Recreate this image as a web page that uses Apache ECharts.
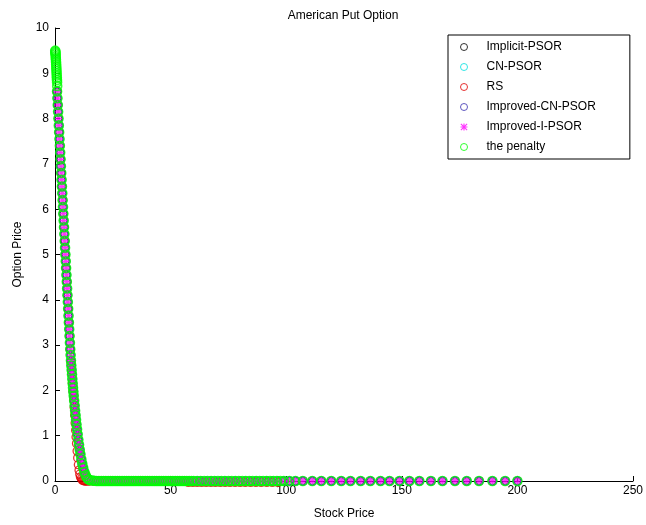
<!DOCTYPE html>
<html>
<head>
<meta charset="utf-8">
<script src="https://cdn.jsdelivr.net/npm/echarts@6/dist/echarts.min.js"></script>
<style>
  html, body { margin: 0; padding: 0; background: #fff; }
  #chart { width: 646px; height: 525px; }
</style>
</head>
<body>
<div id="chart"></div>
<script>
// Axis ticks
const priceTicks = [0, 1, 2, 3, 4, 5, 6, 7, 8, 9, 10];
const stockTicks = [0, 50, 100, 150, 200, 250];

// PSOR-type solvers: [stock price, option price]
const psorCurve = [
  [0.9, 8.60], [1.05, 8.45], [1.2, 8.30], [1.35, 8.15], [1.5, 8.00], [1.65, 7.85], [1.8, 7.70],
  [1.95, 7.55], [2.1, 7.40], [2.25, 7.25], [2.4, 7.10], [2.55, 6.95], [2.7, 6.80], [2.85, 6.65],
  [3.0, 6.50], [3.15, 6.35], [3.3, 6.20], [3.45, 6.05], [3.6, 5.90], [3.75, 5.75], [3.9, 5.60],
  [4.05, 5.45], [4.2, 5.30], [4.35, 5.15], [4.5, 5.00], [4.65, 4.85], [4.8, 4.70], [4.95, 4.55],
  [5.1, 4.40], [5.25, 4.25], [5.4, 4.10], [5.55, 3.95], [5.7, 3.80], [5.85, 3.65], [6.0, 3.50],
  [6.15, 3.35], [6.3, 3.20], [6.45, 3.05], [6.6, 2.91], [6.75, 2.78], [6.9, 2.66], [7.05, 2.55],
  [7.2, 2.45], [7.35, 2.35], [7.5, 2.25], [7.65, 2.15], [7.8, 2.06], [7.95, 1.97], [8.1, 1.88],
  [8.3, 1.77], [8.5, 1.66], [8.7, 1.55], [8.9, 1.45], [9.1, 1.35], [9.3, 1.25], [9.55, 1.14],
  [9.8, 1.03], [10.1, 0.91], [10.4, 0.80], [10.7, 0.69], [11.0, 0.59], [11.4, 0.48], [11.8, 0.38],
  [12.2, 0.29], [12.7, 0.20], [13.2, 0.13], [13.7, 0.08], [14.3, 0.04], [15.0, 0.02],
  [16.5, 0.01], [18.0, 0.005], [19.5, 0], [21.0, 0], [22.5, 0], [24.0, 0], [25.5, 0], [27.0, 0],
  [28.6, 0], [30.2, 0], [31.8, 0], [33.4, 0], [35.0, 0], [36.6, 0], [38.3, 0], [40.0, 0],
  [41.7, 0], [43.4, 0], [45.1, 0], [46.8, 0], [48.6, 0], [50.4, 0], [52.2, 0], [54.0, 0],
  [55.8, 0], [57.7, 0], [59.6, 0], [61.5, 0], [63.4, 0], [65.4, 0], [67.4, 0], [69.4, 0],
  [71.5, 0], [73.6, 0], [75.7, 0], [77.9, 0], [80.1, 0], [82.3, 0], [84.6, 0], [86.9, 0],
  [89.2, 0], [91.6, 0], [94.0, 0], [96.4, 0], [98.9, 0], [101.4, 0], [104.0, 0], [107.2, 0],
  [111.3, 0], [115.2, 0], [119.5, 0], [123.8, 0], [127.8, 0], [132.2, 0], [136.4, 0], [140.8, 0],
  [144.7, 0], [149.0, 0], [153.3, 0], [157.6, 0], [162.6, 0], [167.6, 0], [173.0, 0], [178.1, 0],
  [183.4, 0], [189.2, 0], [194.7, 0], [200.0, 0]
];

// RS solver: [stock price, option price]
const rsCurve = [
  [0.9, 8.60], [1.2, 8.30], [1.5, 8.00], [1.8, 7.70], [2.1, 7.40], [2.4, 7.10], [2.7, 6.80],
  [3.0, 6.50], [3.3, 6.20], [3.6, 5.90], [3.9, 5.60], [4.2, 5.30], [4.5, 5.00], [4.8, 4.70],
  [5.1, 4.40], [5.4, 4.10], [5.7, 3.80], [6.0, 3.50], [6.3, 3.20], [6.6, 2.90], [6.9, 2.62],
  [7.2, 2.38], [7.5, 2.17], [7.8, 1.98], [8.1, 1.80], [8.3, 1.62], [8.5, 1.45], [8.7, 1.28],
  [8.9, 1.12], [9.1, 0.97], [9.3, 0.83], [9.55, 0.66], [9.8, 0.51], [10.1, 0.36], [10.4, 0.24],
  [10.7, 0.15], [11.0, 0.09], [11.4, 0.05], [11.8, 0.02], [12.2, 0.01], [12.7, 0], [13.2, 0],
  [13.7, 0], [14.3, 0], [15.0, 0], [16.5, 0], [18.0, 0], [19.5, 0], [21.0, 0], [22.5, 0],
  [24.0, 0], [25.5, 0], [27.0, 0], [28.6, 0], [30.2, 0], [31.8, 0], [33.4, 0], [35.0, 0],
  [36.6, 0], [38.3, 0], [40.0, 0], [41.7, 0], [43.4, 0], [45.1, 0], [46.8, 0], [48.6, 0],
  [50.4, 0], [52.2, 0], [54.0, 0], [55.8, 0], [57.7, -0.03], [59.6, -0.03], [61.5, -0.03],
  [63.4, -0.03], [65.4, -0.03], [67.4, -0.03], [69.4, -0.03], [71.5, -0.03], [73.6, -0.03],
  [75.7, -0.03], [77.9, -0.03], [80.1, -0.03], [82.3, -0.03], [84.6, -0.03], [86.9, -0.03],
  [89.2, -0.03], [91.6, -0.03], [94.0, -0.03], [96.4, -0.03]
];

// Penalty method: [stock price, option price]
const penaltyCurve = [
  [0.1, 9.50], [0.15, 9.48], [0.2, 9.45], [0.25, 9.42], [0.3, 9.38], [0.35, 9.34], [0.4, 9.30],
  [0.45, 9.25], [0.5, 9.20], [0.55, 9.15], [0.6, 9.10], [0.65, 9.05], [0.7, 9.00], [0.75, 8.95],
  [0.8, 8.90], [0.85, 8.85], [0.9, 8.80], [0.95, 8.72],
  [0.9, 8.60], [1.05, 8.45], [1.2, 8.30], [1.35, 8.15], [1.5, 8.00], [1.65, 7.85], [1.8, 7.70],
  [1.95, 7.55], [2.1, 7.40], [2.25, 7.25], [2.4, 7.10], [2.55, 6.95], [2.7, 6.80], [2.85, 6.65],
  [3.0, 6.50], [3.15, 6.35], [3.3, 6.20], [3.45, 6.05], [3.6, 5.90], [3.75, 5.75], [3.9, 5.60],
  [4.05, 5.45], [4.2, 5.30], [4.35, 5.15], [4.5, 5.00], [4.65, 4.85], [4.8, 4.70], [4.95, 4.55],
  [5.1, 4.40], [5.25, 4.25], [5.4, 4.10], [5.55, 3.95], [5.7, 3.80], [5.85, 3.65], [6.0, 3.50],
  [6.15, 3.35], [6.3, 3.20], [6.45, 3.05], [6.6, 2.91], [6.75, 2.78], [6.9, 2.66], [7.05, 2.55],
  [7.2, 2.45], [7.35, 2.35], [7.5, 2.25], [7.65, 2.15], [7.8, 2.06], [7.95, 1.97], [8.1, 1.88],
  [8.3, 1.77], [8.5, 1.66], [8.7, 1.55], [8.9, 1.45], [9.1, 1.35], [9.3, 1.25], [9.55, 1.14],
  [9.8, 1.03], [10.1, 0.91], [10.4, 0.80], [10.7, 0.69], [11.0, 0.59], [11.4, 0.48], [11.8, 0.38],
  [12.2, 0.29], [12.7, 0.20], [13.2, 0.13], [13.7, 0.08], [14.3, 0.04], [15.0, 0.02],
  [16, 0.01], [17, 0.005], [18, 0], [19, 0], [20, 0], [21, 0], [22, 0], [23, 0], [24, 0], [25, 0],
  [26, 0], [27, 0], [28, 0], [29, 0], [30, 0], [31, 0], [32, 0], [33, 0], [34, 0], [35, 0],
  [36, 0], [37, 0], [38, 0], [39, 0], [40, 0], [41, 0], [42, 0], [43, 0], [44, 0], [45, 0],
  [46, 0], [47, 0], [48, 0], [49, 0], [50, 0], [51, 0], [52, 0], [53, 0], [54, 0], [55, 0],
  [56, 0], [57, 0], [58, 0], [59, 0], [60, 0], [61.5, 0], [63, 0], [64.5, 0], [66, 0], [67.5, 0],
  [69, 0], [70.5, 0], [72, 0], [73.5, 0], [75, 0], [76.5, 0], [78, 0], [79.5, 0], [81, 0],
  [82.5, 0], [84, 0], [85.5, 0], [87, 0], [88.5, 0], [90, 0], [91.5, 0], [93, 0], [94.5, 0],
  [96, 0], [97.5, 0], [99, 0], [101.4, 0], [104.0, 0], [107.2, 0], [111.3, 0], [115.2, 0],
  [119.5, 0], [123.8, 0], [127.8, 0], [132.2, 0], [136.4, 0], [140.8, 0], [144.7, 0], [149.0, 0],
  [153.3, 0], [157.6, 0], [162.6, 0], [167.6, 0], [173.0, 0], [178.1, 0], [183.4, 0], [189.2, 0],
  [194.7, 0], [200.0, 0]
];

const seriesNames = ['Implicit-PSOR', 'CN-PSOR', 'RS', 'Improved-CN-PSOR', 'Improved-I-PSOR', 'the penalty'];

// asterisk marker built from four thin bars
const asterisk = 'path://M4.2,0L5.8,0L5.8,10L4.2,10Z M0,4.2L10,4.2L10,5.8L0,5.8Z M1.1,0L10,8.9L8.9,10L0,1.1Z M8.9,0L10,1.1L1.1,10L0,8.9Z';

const FONT = 'Liberation Sans, Arial, sans-serif';

function ringSeries(name, data, color, size, width) {
  return {
    name: name,
    type: 'scatter',
    data: data,
    symbol: 'circle',
    symbolSize: size,
    clip: false,
    silent: true,
    itemStyle: { color: 'transparent', borderColor: color, borderWidth: width }
  };
}

const chart = echarts.init(document.getElementById('chart'), null, { renderer: 'canvas' });

chart.setOption({
  animation: false,
  backgroundColor: '#ffffff',
  title: {
    text: 'American Put Option',
    left: 338,
    top: 5,
    textAlign: 'center',
    textStyle: { fontFamily: FONT, fontSize: 12, fontWeight: 'normal', color: '#000' }
  },
  legend: {
    orient: 'vertical',
    left: 448,
    top: 35,
    data: seriesNames,
    itemWidth: 7,
    itemHeight: 7,
    itemGap: 6,
    padding: [5, 34, 5, 12],
    borderColor: '#000',
    borderWidth: 1,
    backgroundColor: '#fff',
    selectedMode: false,
    itemStyle: { borderWidth: 1 },
    textStyle: { fontFamily: FONT, fontSize: 12, color: '#000', lineHeight: 14, padding: [0, 0, 0, 14] }
  },
  grid: { left: 55, right: 12, top: 28, bottom: 42, containLabel: false },
  xAxis: {
    type: 'value',
    min: stockTicks[0],
    max: stockTicks[stockTicks.length - 1],
    interval: 50,
    name: 'Stock Price',
    nameLocation: 'middle',
    nameGap: 27,
    nameTextStyle: { fontFamily: FONT, fontSize: 12, color: '#000' },
    axisLine: { onZero: false, lineStyle: { color: '#000', width: 1 } },
    axisTick: { inside: true, length: 5, lineStyle: { color: '#000' } },
    axisLabel: { fontFamily: FONT, fontSize: 12, color: '#000', margin: 4 },
    splitLine: { show: false }
  },
  yAxis: {
    type: 'value',
    min: priceTicks[0],
    max: priceTicks[priceTicks.length - 1],
    interval: 1,
    name: 'Option Price',
    nameLocation: 'middle',
    nameGap: 31,
    nameTextStyle: { fontFamily: FONT, fontSize: 12, color: '#000' },
    axisLine: { onZero: false, lineStyle: { color: '#000', width: 1 } },
    axisTick: { inside: true, length: 5, lineStyle: { color: '#000' } },
    axisLabel: { fontFamily: FONT, fontSize: 12, color: '#000', margin: 6 },
    splitLine: { show: false }
  },
  series: [
    ringSeries(seriesNames[0], psorCurve, '#000000', 7, 1.3),
    ringSeries(seriesNames[1], psorCurve, '#00e0e0', 8, 1),
    ringSeries(seriesNames[2], rsCurve, '#e00000', 8, 1.3),
    ringSeries(seriesNames[3], psorCurve, '#3a30b0', 8, 1.7),
    {
      name: seriesNames[4],
      type: 'scatter',
      data: psorCurve,
      symbol: asterisk,
      symbolSize: 8,
      clip: false,
      silent: true,
      itemStyle: { color: '#ff00ff' }
    },
    ringSeries(seriesNames[5], penaltyCurve, '#00ff00', 9, 1.6)
  ]
});
</script>
</body>
</html>
